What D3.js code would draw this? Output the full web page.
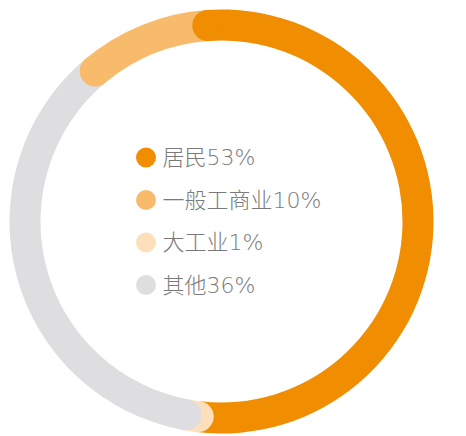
<!DOCTYPE html>
<html>
<head>
<meta charset="utf-8">
<script src="https://cdn.jsdelivr.net/npm/d3@7"></script>
<style>
  html, body { margin: 0; padding: 0; background: #fff; }
  svg { display: block; }
  .legend-label {
    font-family: "DejaVu Sans", "Noto Sans CJK SC", sans-serif;
    font-weight: 300;
    font-size: 22px;
    fill: #7a7a7a;
  }
</style>
</head>
<body>
<div id="chart"></div>
<script>
// Share of electricity use by category (percent)
const categories = ['居民', '一般工商业', '大工业', '其他'];
const shares = [53, 10, 1, 36];
const colors = ['#f18d00', '#f8bb6c', '#fde0bb', '#dedde0'];

// Ring order clockwise from the top: 居民, 大工业, 其他, 一般工商业
const ringOrder = ['居民', '大工业', '其他', '一般工商业'];

const width = 466, height = 436;
const cx = 221.5, cy = 221.5;
const outerR = 212, innerR = 181;
const midR = (outerR + innerR) / 2;
const capR = (outerR - innerR) / 2;
const startOffset = -4 * Math.PI / 180;

const svg = d3.select('#chart').append('svg')
    .attr('width', width)
    .attr('height', height);

const ring = svg.append('g')
    .attr('transform', `translate(${cx},${cy})`);

const color = d3.scaleOrdinal().domain(categories).range(colors);

const ringData = ringOrder.map(name => ({name, value: shares[categories.indexOf(name)]}));

const pie = d3.pie()
    .sort(null)
    .value(d => d.value)
    .startAngle(startOffset)
    .endAngle(startOffset + 2 * Math.PI);

const arcs = pie(ringData);

const arc = d3.arc()
    .innerRadius(innerR)
    .outerRadius(outerR);

// square-ended segments first
ring.selectAll('.seg')
    .data(arcs)
  .join('path')
    .attr('class', 'seg')
    .attr('d', arc)
    .attr('fill', d => color(d.data.name));

// rounded cap at the start of each segment, laid over the previous one
ring.selectAll('.cap')
    .data(arcs)
  .join('circle')
    .attr('class', 'cap')
    .attr('cx', d => midR * Math.sin(d.startAngle))
    .attr('cy', d => -midR * Math.cos(d.startAngle))
    .attr('r', capR)
    .attr('fill', d => color(d.data.name));

// Legend in the middle
const legendY = d3.scaleLinear()
    .domain([0, categories.length - 1])
    .range([157.5, 285]);

const legend = svg.append('g')
    .attr('class', 'legend');

const rows = legend.selectAll('.row')
    .data(categories)
  .join('g')
    .attr('class', 'row')
    .attr('transform', (d, i) => `translate(146,${legendY(i)})`);

rows.append('circle')
    .attr('r', 10)
    .attr('fill', d => color(d));

rows.append('text')
    .attr('class', 'legend-label')
    .attr('x', 16.5)
    .attr('dy', '0.36em')
    .text((d, i) => `${d}${shares[i]}%`);
</script>
</body>
</html>
